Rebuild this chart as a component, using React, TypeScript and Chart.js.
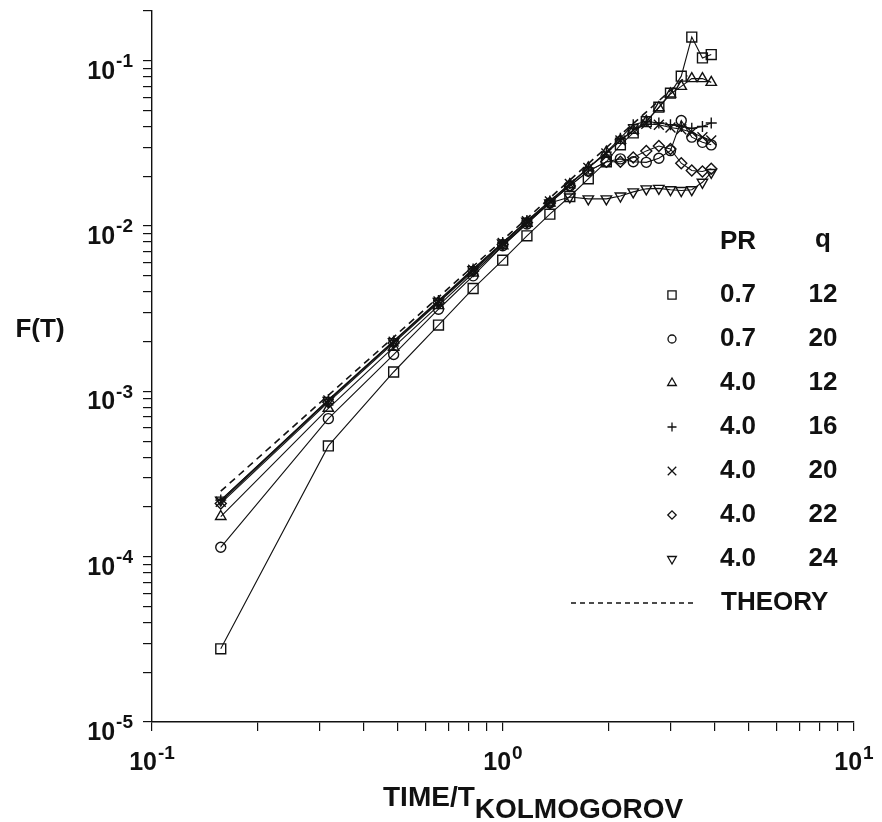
import React, { useEffect, useRef } from 'react';
import { Chart, registerables } from 'chart.js';

Chart.register(...registerables);

// ---------------- data ----------------
const TIME = [0.157, 0.318, 0.488, 0.655, 0.822, 0.998, 1.17, 1.36, 1.55, 1.75, 1.97, 2.16, 2.35, 2.56, 2.78, 3.0, 3.22, 3.45, 3.7, 3.92];

const F_PR07_Q12 = [2.77e-5, 4.68e-4, 1.31e-3, 2.52e-3, 4.19e-3, 6.22e-3, 8.73e-3, 1.18e-2, 1.51e-2, 1.93e-2, 2.45e-2, 3.1e-2, 3.66e-2, 4.28e-2, 5.24e-2, 6.37e-2, 8.07e-2, 0.139, 0.104, 0.109];
const F_PR07_Q20 = [1.14e-4, 6.84e-4, 1.67e-3, 3.14e-3, 5.0e-3, 7.6e-3, 1.03e-2, 1.38e-2, 1.75e-2, 2.15e-2, 2.45e-2, 2.55e-2, 2.45e-2, 2.43e-2, 2.57e-2, 2.86e-2, 4.35e-2, 3.45e-2, 3.21e-2, 3.1e-2];
const F_PR40_Q12 = [1.75e-4, 7.9e-4, 1.85e-3, 3.3e-3, 5.2e-3, 7.6e-3, 1.04e-2, 1.38e-2, 1.78e-2, 2.25e-2, 2.8e-2, 3.3e-2, 3.8e-2, 4.3e-2, 5.2e-2, 6.3e-2, 7.0e-2, 7.8e-2, 7.8e-2, 7.4e-2];
const F_PR40_Q16 = [2.2e-4, 8.9e-4, 2.02e-3, 3.55e-3, 5.5e-3, 7.95e-3, 1.08e-2, 1.42e-2, 1.8e-2, 2.25e-2, 2.8e-2, 3.4e-2, 4.1e-2, 4.3e-2, 4.2e-2, 4.1e-2, 4.0e-2, 3.9e-2, 4.0e-2, 4.2e-2];
const F_PR40_Q20 = [2.15e-4, 8.8e-4, 2.0e-3, 3.5e-3, 5.45e-3, 7.9e-3, 1.07e-2, 1.41e-2, 1.8e-2, 2.25e-2, 2.75e-2, 3.3e-2, 3.8e-2, 4.15e-2, 4.1e-2, 3.95e-2, 3.85e-2, 3.7e-2, 3.45e-2, 3.3e-2];
const F_PR40_Q22 = [2.1e-4, 8.6e-4, 1.96e-3, 3.45e-3, 5.35e-3, 7.75e-3, 1.05e-2, 1.38e-2, 1.75e-2, 2.15e-2, 2.45e-2, 2.45e-2, 2.6e-2, 2.85e-2, 3.05e-2, 2.93e-2, 2.4e-2, 2.17e-2, 2.14e-2, 2.22e-2];
const F_PR40_Q24 = [2.2e-4, 8.8e-4, 2.0e-3, 3.5e-3, 5.45e-3, 7.9e-3, 1.07e-2, 1.38e-2, 1.5e-2, 1.46e-2, 1.46e-2, 1.52e-2, 1.61e-2, 1.68e-2, 1.69e-2, 1.66e-2, 1.64e-2, 1.66e-2, 1.84e-2, 2.11e-2];

const THEORY_T = [0.157, 3.35];
const THEORY_F = [2.49e-4, 8.15e-2];

const PR_LABELS = ['0.7', '0.7', '4.0', '4.0', '4.0', '4.0', '4.0'];
const Q_LABELS = ['12', '20', '12', '16', '20', '22', '24'];

const X_DECADES = [0.1, 1, 10];
const X_EXPONENTS = ['-1', '0', '1'];
const Y_DECADES = [1e-5, 1e-4, 1e-3, 1e-2, 1e-1];
const Y_EXPONENTS = ['-5', '-4', '-3', '-2', '-1'];
const MINOR_MULTS = [2, 3, 4, 5, 6, 7, 8, 9];

const X_MIN = 0.1, X_MAX = 10, Y_MIN = 1e-5, Y_MAX = 0.2;

// ---------------- styles ----------------
const INK = '#111';
const FONT = '"Liberation Sans", Arial, Helvetica, sans-serif';

const SERIES_VALUES = [F_PR07_Q12, F_PR07_Q20, F_PR40_Q12, F_PR40_Q16, F_PR40_Q20, F_PR40_Q22, F_PR40_Q24];
const SERIES_STYLE = [
  { style: 'rect', radius: 7, rotation: 0, legendR: 5.8 },
  { style: 'circle', radius: 5, rotation: 0, legendR: 4 },
  { style: 'triangle', radius: 6, rotation: 0, legendR: 5 },
  { style: 'cross', radius: 5.5, rotation: 0, legendR: 4.5 },
  { style: 'crossRot', radius: 7, rotation: 0, legendR: 6 },
  { style: 'rectRot', radius: 5.5, rotation: 0, legendR: 4.2 },
  { style: 'triangle', radius: 6, rotation: 180, legendR: 5 },
];

function tickList(decades: number[], min: number, max: number) {
  const out: number[] = [];
  decades.forEach((d) => {
    if (d >= min && d <= max) out.push(d);
    MINOR_MULTS.forEach((m) => {
      const v = d * m;
      if (v > min && v <= max * 1.0001) out.push(v);
    });
  });
  return out.sort((a, b) => a - b);
}

function drawMarker(ctx: CanvasRenderingContext2D, style: string, x: number, y: number, r: number, rotation: number) {
  ctx.beginPath();
  const rot = (rotation * Math.PI) / 180;
  if (style === 'rect') {
    const s = Math.SQRT1_2 * r;
    ctx.rect(x - s, y - s, 2 * s, 2 * s);
  } else if (style === 'circle') {
    ctx.arc(x, y, r, 0, Math.PI * 2);
  } else if (style === 'triangle') {
    for (let i = 0; i < 3; i++) {
      const a = rot + (i * 2 * Math.PI) / 3;
      const px = x + Math.sin(a) * r;
      const py = y - Math.cos(a) * r;
      if (i === 0) ctx.moveTo(px, py);
      else ctx.lineTo(px, py);
    }
    ctx.closePath();
  } else if (style === 'cross') {
    ctx.moveTo(x - r, y);
    ctx.lineTo(x + r, y);
    ctx.moveTo(x, y - r);
    ctx.lineTo(x, y + r);
  } else if (style === 'crossRot') {
    const o = Math.SQRT1_2 * r;
    ctx.moveTo(x - o, y - o);
    ctx.lineTo(x + o, y + o);
    ctx.moveTo(x - o, y + o);
    ctx.lineTo(x + o, y - o);
  } else if (style === 'rectRot') {
    ctx.moveTo(x - r, y);
    ctx.lineTo(x, y - r);
    ctx.lineTo(x + r, y);
    ctx.lineTo(x, y + r);
    ctx.closePath();
  }
  ctx.stroke();
}

const textPlugin = {
  id: 'paperText',
  afterDraw(chart: any) {
    const ctx: CanvasRenderingContext2D = chart.ctx;
    const xs = chart.scales.x;
    const ys = chart.scales.y;
    const area = chart.chartArea;
    ctx.save();
    ctx.fillStyle = INK;
    ctx.strokeStyle = INK;

    const baseFont = `bold 25px ${FONT}`;
    const supFont = `bold 19px ${FONT}`;

    // y tick labels
    ctx.textBaseline = 'middle';
    ctx.textAlign = 'right';
    Y_DECADES.forEach((v, i) => {
      const py = ys.getPixelForValue(v);
      const right = area.left - 19;
      ctx.font = supFont;
      const sw = ctx.measureText(Y_EXPONENTS[i]).width;
      ctx.fillText(Y_EXPONENTS[i], right, py + 1);
      ctx.font = baseFont;
      ctx.fillText('10', right - sw - 1, py + 11);
    });

    // x tick labels
    ctx.textAlign = 'left';
    X_DECADES.forEach((v, i) => {
      const px = xs.getPixelForValue(v);
      ctx.font = baseFont;
      const w1 = ctx.measureText('10').width;
      ctx.font = supFont;
      const w2 = ctx.measureText(X_EXPONENTS[i]).width;
      const start = px - (w1 + w2 + 1) / 2;
      ctx.font = baseFont;
      ctx.fillText('10', start, area.bottom + 41);
      ctx.font = supFont;
      ctx.fillText(X_EXPONENTS[i], start + w1 + 1, area.bottom + 32);
    });

    // axis titles
    ctx.font = `bold 26px ${FONT}`;
    ctx.textAlign = 'center';
    ctx.fillText('F(T)', 40, 330);

    ctx.textAlign = 'left';
    ctx.textBaseline = 'alphabetic';
    ctx.font = `bold 28px ${FONT}`;
    const tStart = area.left + 231;
    const wMain = ctx.measureText('TIME/T').width;
    ctx.fillText('TIME/T', tStart, area.bottom + 84);
    ctx.fillText('KOLMOGOROV', tStart + wMain, area.bottom + 96);

    // legend
    const markerX = 672;
    const col1 = 738;
    const col2 = 823;
    const headerY = 242;
    const row0 = 295;
    const rowStep = 44;
    ctx.font = `bold 26px ${FONT}`;
    ctx.textAlign = 'center';
    ctx.textBaseline = 'middle';
    ctx.fillText('PR', col1, headerY);
    ctx.fillText('q', col2, headerY - 2);
    ctx.lineWidth = 1.3;
    PR_LABELS.forEach((pr, i) => {
      const y = row0 + i * rowStep;
      const st = SERIES_STYLE[i];
      drawMarker(ctx, st.style, markerX, y, st.legendR, st.rotation);
      ctx.fillText(pr, col1, y);
      ctx.fillText(Q_LABELS[i], col2, y);
    });
    const thY = row0 + PR_LABELS.length * rowStep;
    ctx.setLineDash([5, 4]);
    ctx.lineWidth = 1.4;
    ctx.beginPath();
    ctx.moveTo(571, thY);
    ctx.lineTo(697, thY);
    ctx.stroke();
    ctx.setLineDash([]);
    ctx.textAlign = 'left';
    ctx.fillText('THEORY', 721, thY);
    ctx.restore();
  },
};

export default function App() {
  const ref = useRef<HTMLCanvasElement>(null);

  useEffect(() => {
    document.body.style.margin = '0';
    document.body.style.background = '#fff';
    const canvas = ref.current;
    if (!canvas) return;

    const datasets: any[] = SERIES_VALUES.map((vals, i) => ({
      label: `PR ${PR_LABELS[i]} q ${Q_LABELS[i]}`,
      data: TIME.map((t, k) => ({ x: t, y: vals[k] })),
      showLine: true,
      borderColor: INK,
      borderWidth: 1.1,
      pointStyle: SERIES_STYLE[i].style,
      pointRadius: SERIES_STYLE[i].radius,
      pointRotation: SERIES_STYLE[i].rotation,
      pointBorderColor: INK,
      pointBackgroundColor: 'rgba(0,0,0,0)',
      pointBorderWidth: 1.4,
      tension: 0,
      fill: false,
    }));
    datasets.push({
      label: 'THEORY',
      data: THEORY_T.map((t, k) => ({ x: t, y: THEORY_F[k] })),
      showLine: true,
      borderColor: INK,
      borderWidth: 1.6,
      borderDash: [7, 5],
      pointRadius: 0,
      fill: false,
    });

    const X_TICKS = tickList(X_DECADES, X_MIN, X_MAX);
    const Y_TICKS = tickList([...Y_DECADES, 1], Y_MIN, Y_MAX);

    const chart = new Chart(canvas, {
      type: 'scatter',
      data: { datasets },
      options: {
        responsive: false,
        animation: false,
        layout: { padding: { left: 143, right: 28, top: 11, bottom: 91 } },
        plugins: { legend: { display: false }, tooltip: { enabled: false } },
        scales: {
          x: {
            type: 'logarithmic',
            min: X_MIN,
            max: X_MAX,
            afterBuildTicks: (s: any) => {
              s.ticks = X_TICKS.map((v) => ({ value: v }));
            },
            ticks: { display: false },
            grid: { drawOnChartArea: false, drawTicks: true, tickLength: 9, color: INK, lineWidth: 1.2 },
            border: { display: true, color: INK, width: 1.4 },
          },
          y: {
            type: 'logarithmic',
            min: Y_MIN,
            max: Y_MAX,
            afterBuildTicks: (s: any) => {
              s.ticks = Y_TICKS.map((v) => ({ value: v }));
            },
            ticks: { display: false },
            grid: { drawOnChartArea: false, drawTicks: true, tickLength: 9, color: INK, lineWidth: 1.2 },
            border: { display: true, color: INK, width: 1.4 },
          },
        },
      } as any,
      plugins: [textPlugin],
    });
    return () => chart.destroy();
  }, []);

  return (
    <div style={{ width: 882, height: 822, background: '#fff' }}>
      <canvas ref={ref} width={882} height={822} style={{ display: 'block' }} />
    </div>
  );
}
